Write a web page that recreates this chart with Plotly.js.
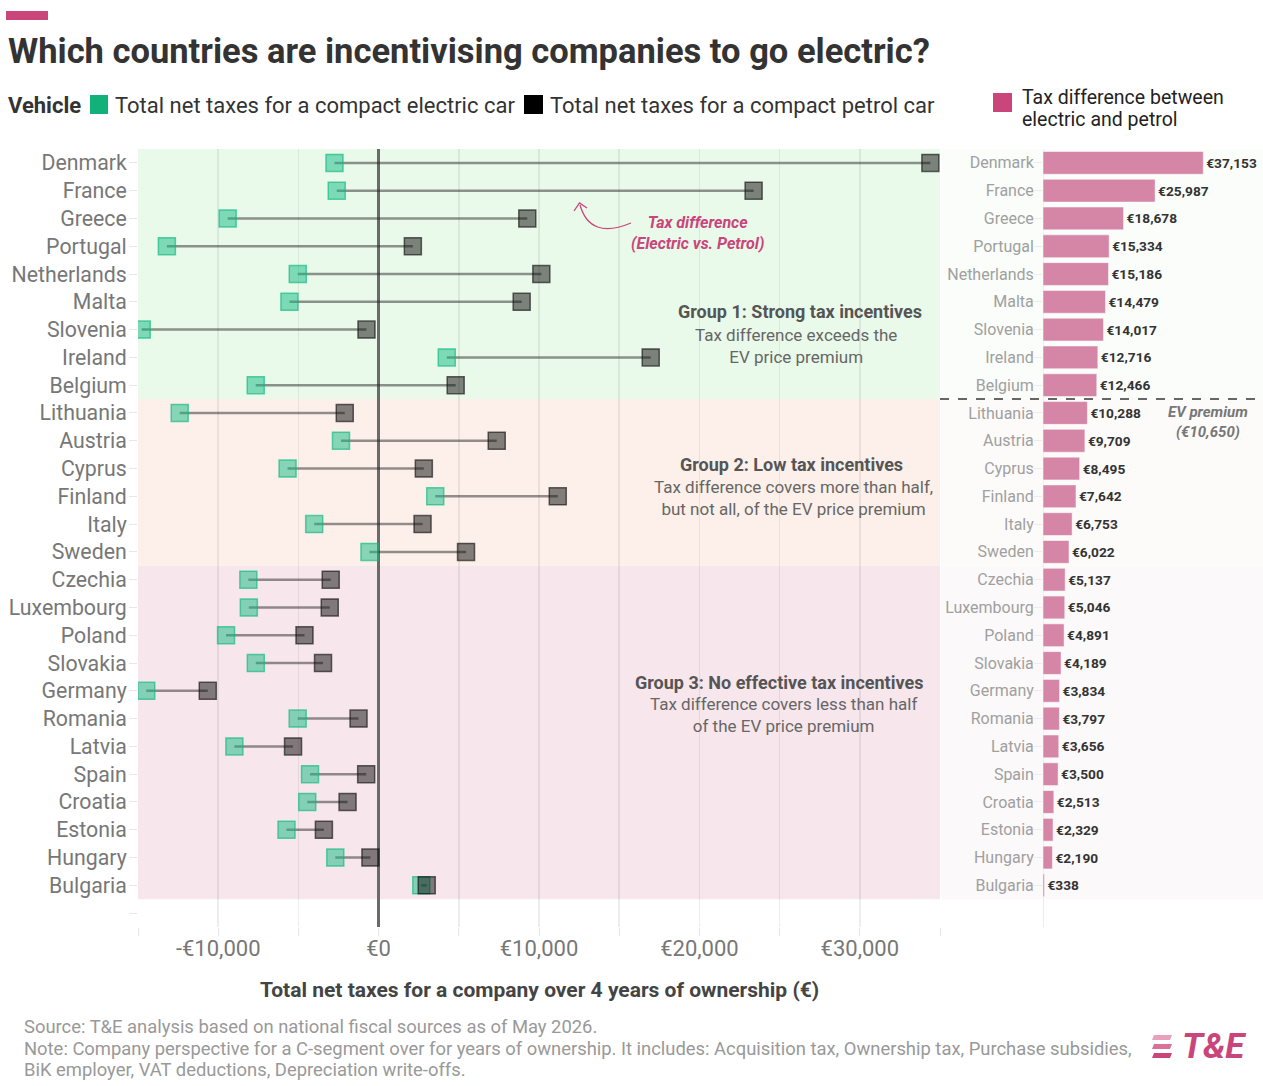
<!DOCTYPE html>
<html>
<head>
<meta charset="utf-8">
<script src="https://cdn.plot.ly/plotly-3.0.1.min.js"></script>
<style>html,body{margin:0;padding:0;background:#fff;}#chart{width:1263px;height:1086px;}</style>
</head>
<body>
<div id="chart"></div>
<script>
// ---------- DATA ----------
const countries = ['Denmark','France','Greece','Portugal','Netherlands','Malta','Slovenia','Ireland','Belgium',
  'Lithuania','Austria','Cyprus','Finland','Italy','Sweden',
  'Czechia','Luxembourg','Poland','Slovakia','Germany','Romania','Latvia','Spain','Croatia','Estonia','Hungary','Bulgaria'];
const electricTax = [-2750,-2610,-9410,-13200,-5040,-5560,-14770,4250,-7660,
  -12400,-2345,-5675,3530,-4015,-570,
  -8120,-8090,-9510,-7655,-14485,-5045,-8990,-4275,-4450,-5740,-2700,2660];
const petrolTax = [34400,23380,9270,2135,10145,8920,-755,16965,4805,
  -2110,7365,2820,11170,2740,5450,
  -2985,-3045,-4620,-3465,-10650,-1250,-5335,-775,-1935,-3410,-510,3000];
const taxDiff = [37153,25987,18678,15334,15186,14479,14017,12716,12466,
  10288,9709,8495,7642,6753,6022,
  5137,5046,4891,4189,3834,3797,3656,3500,2513,2329,2190,338];
const groupFirst = [0, 9, 15];
const groupLast = [8, 14, 26];
const groupTitles = ['Group 1: Strong tax incentives','Group 2: Low tax incentives','Group 3: No effective tax incentives'];
const groupNotes = ['Tax difference exceeds the<br>EV price premium',
  'Tax difference covers more than half,<br>but not all, of the EV price premium',
  'Tax difference covers less than half<br>of the EV price premium'];
const evPremium = 10650;
const xTickVals = [-15000,-10000,-5000,0,5000,10000,15000,20000,25000,30000,35000];
const xTickText = ['','-€10,000','','€0','','€10,000','','€20,000','','€30,000',''];

// ---------- LAYOUT HELPERS ----------
const W = 1263, H = 1086;
const px = v => v / W;
const py = v => 1 - v / H;
const F = 'Roboto, sans-serif';
const idx = countries.map((c, i) => i);
const nRows = countries.length + 1; // one empty slot at the bottom

// ---------- TRACES ----------
const lx = [], ly = [];
idx.forEach(i => { lx.push(electricTax[i], petrolTax[i], null); ly.push(i, i, null); });

const traces = [
  { type:'scatter', mode:'lines', x:lx, y:ly, xaxis:'x', yaxis:'y',
    line:{color:'rgba(40,40,40,0.5)', width:2.5}, hoverinfo:'skip', showlegend:false },
  { type:'scatter', mode:'markers', x:electricTax, y:idx, xaxis:'x', yaxis:'y',
    marker:{symbol:'square', size:17, color:'rgba(16,185,129,0.5)', line:{color:'rgba(16,185,129,0.65)', width:1.5}},
    showlegend:false },
  { type:'scatter', mode:'markers', x:petrolTax, y:idx, xaxis:'x', yaxis:'y',
    marker:{symbol:'square', size:17, color:'rgba(20,20,20,0.52)', line:{color:'rgba(20,20,20,0.65)', width:1.5}},
    showlegend:false },
  { type:'bar', orientation:'h', x:taxDiff, y:idx, xaxis:'x2', yaxis:'y2', width:0.82,
    marker:{color:'#d585a6', line:{color:'rgba(255,255,255,0.5)', width:1}},
    texttemplate:'€%{x:,.0f}', textposition:'outside', constraintext:'none', cliponaxis:false,
    textfont:{family:F, size:13.7, color:'#333', weight:700}, showlegend:false }
];

// ---------- SHAPES ----------
const bandMain = ['#eafaea', '#fdf0ea', '#f7e7ec'];
const bandSide = ['#fafdfa', '#fdfbfa', '#fcf9fa'];
const shapes = [];
groupFirst.forEach((g, k) => {
  shapes.push({type:'rect', layer:'below', xref:'x', yref:'y', x0:-15000, x1:35000,
    y0:g - 0.5, y1:groupLast[k] + 0.5, fillcolor:bandMain[k], line:{width:0}});
  shapes.push({type:'rect', layer:'below', xref:'paper', yref:'y2', x0:px(941), x1:1,
    y0:g - 0.5, y1:groupLast[k] + 0.5, fillcolor:bandSide[k], line:{width:0}});
});
// EV premium divider
shapes.push({type:'line', xref:'paper', yref:'y2', x0:px(940), x1:1, y0:groupLast[0] + 0.5, y1:groupLast[0] + 0.5,
  line:{color:'#666', width:2, dash:'dash'}});
// header accent bar
shapes.push({type:'rect', xref:'paper', yref:'paper', x0:px(6), x1:px(48), y0:py(20), y1:py(11), fillcolor:'#c9457a', line:{width:0}});
// legend swatches
shapes.push({type:'rect', xref:'paper', yref:'paper', x0:px(90), x1:px(108), y0:py(114), y1:py(95), fillcolor:'#10b27a', line:{width:0}});
shapes.push({type:'rect', xref:'paper', yref:'paper', x0:px(524), x1:px(543), y0:py(114), y1:py(95), fillcolor:'#000', line:{width:0}});
shapes.push({type:'rect', xref:'paper', yref:'paper', x0:px(993), x1:px(1012), y0:py(112), y1:py(93), fillcolor:'#c9457a', line:{width:0}});
// curved arrow for "Tax difference"
shapes.push({type:'path', xref:'paper', yref:'paper',
  path:`M ${px(631)},${py(223)} Q ${px(590)},${py(240)} ${px(580)},${py(205)}`,
  line:{color:'#c9457a', width:1.3}});
shapes.push({type:'path', xref:'paper', yref:'paper',
  path:`M ${px(574)},${py(211)} L ${px(579.5)},${py(203)} L ${px(587)},${py(208)}`,
  line:{color:'#c9457a', width:1.3}});
// logo stripes
[1035, 1044, 1053].forEach((yy, k) => {
  shapes.push({type:'path', xref:'paper', yref:'paper',
    path:`M ${px(1152)},${py(yy+5)} L ${px(1170)},${py(yy+5)} L ${px(1172)},${py(yy)} L ${px(1154)},${py(yy)} Z`,
    fillcolor:['#e8a0bd','#d9709a','#c9457a'][k], line:{width:0}});
});

// ---------- ANNOTATIONS ----------
const ann = (x, y, text, size, color, extra) => Object.assign({
  xref:'paper', yref:'paper', x:px(x), y:py(y), text:text, showarrow:false,
  xanchor:'center', yanchor:'middle', font:{family:F, size:size, color:color}}, extra || {});
const annotations = [
  ann(6, 51, '<b>Which countries are incentivising companies to go electric?</b>', 34.5, '#333', {xanchor:'left'}),
  ann(6, 105, '<b>Vehicle</b>', 22, '#333', {xanchor:'left'}),
  ann(113, 105, 'Total net taxes for a compact electric car', 22, '#333', {xanchor:'left'}),
  ann(548, 105, 'Total net taxes for a compact petrol car', 22, '#333', {xanchor:'left'}),
  ann(1020, 97.5, 'Tax difference between', 19.5, '#222', {xanchor:'left'}),
  ann(1020, 119.5, 'electric and petrol', 19.5, '#222', {xanchor:'left'}),
  ann(697, 233, '<b><i>Tax difference<br>(Electric vs. Petrol)</i></b>', 16, '#c9457a'),
  ann(1208, 422, '<b><i>EV premium<br>(€' + evPremium.toLocaleString('en-US') + ')</i></b>', 15, '#777'),
  ann(539, 990, '<b>Total net taxes for a company over 4 years of ownership (€)</b>', 21, '#444'),
  ann(22, 1026, 'Source: T&amp;E analysis based on national fiscal sources as of May 2026.', 18.4, '#999', {xanchor:'left'}),
  ann(22, 1048, 'Note: Company perspective for a C-segment over for years of ownership. It includes: Acquisition tax, Ownership tax, Purchase subsidies,', 18.4, '#999', {xanchor:'left'}),
  ann(22, 1069, 'BiK employer, VAT deductions, Depreciation write-offs.', 18.4, '#999', {xanchor:'left'}),
  ann(1180, 1046, '<b><i>T&amp;E</i></b>', 35, '#c9457a', {xanchor:'left'})
];
const gPos = [[800, 312, 796, 346], [791, 464, 793, 498], [779, 682, 783, 715]];
groupTitles.forEach((t, k) => {
  annotations.push(ann(gPos[k][0], gPos[k][1], '<b>' + t + '</b>', 18, '#555'));
  annotations.push(ann(gPos[k][2], gPos[k][3], groupNotes[k], 17, '#666'));
});

// ---------- LAYOUT ----------
const layout = {
  width:W, height:H, margin:{l:0, r:0, t:0, b:0}, paper_bgcolor:'#fff', plot_bgcolor:'rgba(0,0,0,0)',
  font:{family:F}, showlegend:false, hovermode:false,
  xaxis:{domain:[px(138), px(940)], range:[-15000, 35000], tickvals:xTickVals, ticktext:xTickText,
    showgrid:true, gridcolor:'rgba(0,0,0,0.07)', gridwidth:1.5, ticks:'outside', ticklen:8, tickcolor:'#e6e6e6',
    zeroline:true, zerolinecolor:'#6a6a6a', zerolinewidth:2.5, showline:false, ticklabelstandoff:-6,
    tickfont:{family:F, size:22, color:'#777'}, automargin:false, fixedrange:true},
  yaxis:{domain:[py(927), py(149)], range:[nRows - 0.5, -0.5], tickvals:idx.concat([countries.length]),
    ticktext:countries.concat(['']), showgrid:false, zeroline:false, ticks:'outside', ticklen:8, tickcolor:'#e8e8e8',
    tickfont:{family:F, size:21.3, color:'#777'}, automargin:false, fixedrange:true, ticklabelstandoff:-2},
  xaxis2:{domain:[px(1043), 1], range:[0, 51000], anchor:'y2', showgrid:false, showticklabels:false,
    zeroline:true, zerolinecolor:'#ececec', zerolinewidth:1, automargin:false, fixedrange:true},
  yaxis2:{domain:[py(927), py(149)], range:[nRows - 0.5, -0.5], anchor:'x2', tickvals:idx, ticktext:countries,
    showgrid:false, zeroline:false, ticks:'outside', ticklen:8, tickcolor:'#ececec', ticklabelstandoff:-3,
    tickfont:{family:F, size:16, color:'#a0a0a0'}, automargin:false, fixedrange:true},
  shapes:shapes, annotations:annotations
};

Plotly.newPlot('chart', traces, layout, {staticPlot:true, displayModeBar:false});
</script>
</body>
</html>
